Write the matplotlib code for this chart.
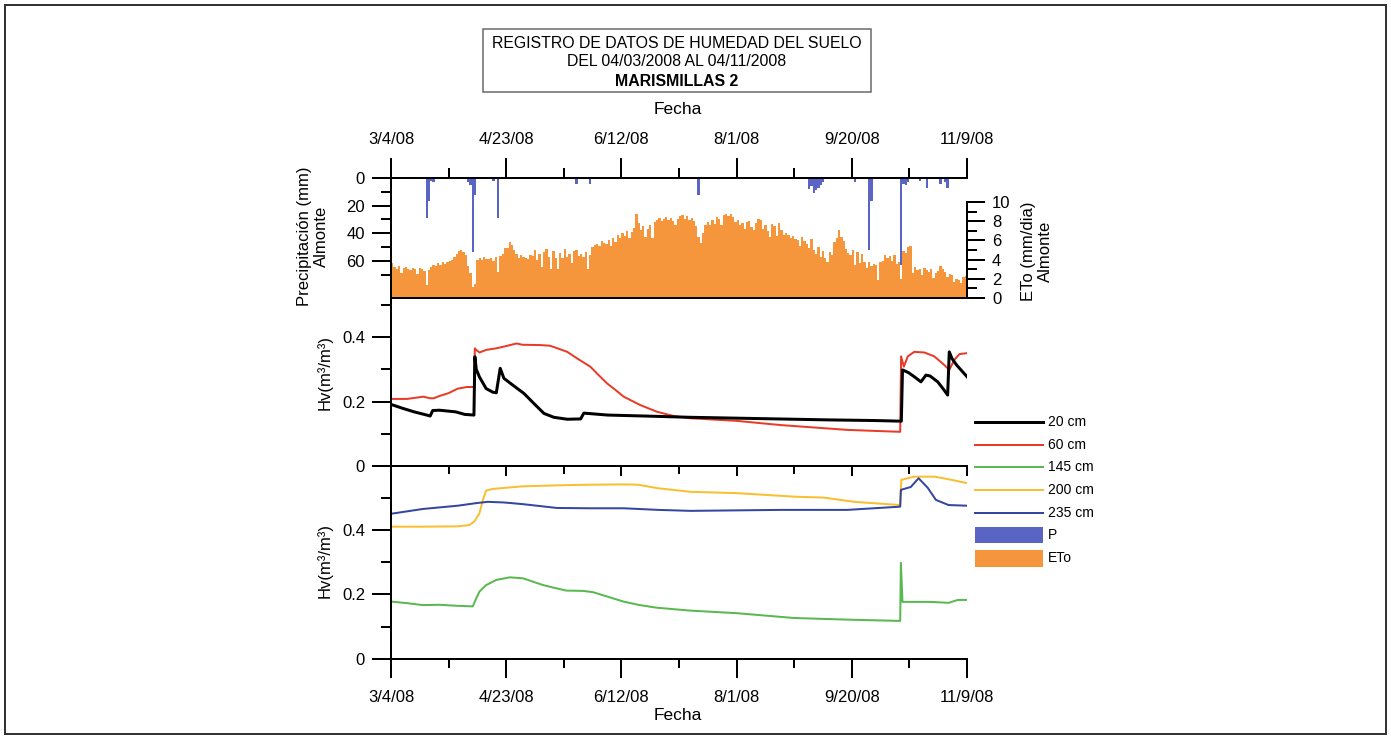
import matplotlib
matplotlib.use('Agg')
import matplotlib.pyplot as plt
from matplotlib.patches import Rectangle
from matplotlib.lines import Line2D
from matplotlib.ticker import FixedLocator, FuncFormatter

plt.rcParams['font.family'] = ['Liberation Sans', 'DejaVu Sans']

# ---------------- data ----------------
# x axis: days since 3/4/08
date_ticks = [0, 50, 100, 150, 200, 250]
date_labels = ['3/4/08', '4/23/08', '6/12/08', '8/1/08', '9/20/08', '11/9/08']
date_minor = [25, 75, 125, 175, 225]

# daily ETo (mm/dia), Almonte
eto = [3.6, 3.2, 3.0, 3.3, 2.6, 3.1, 3.2, 3.0, 2.9, 3.1,
       3.0, 2.5, 3.1, 3.0, 2.8, 1.4, 2.9, 3.2, 3.4, 3.3,
       3.6, 3.4, 3.8, 3.5, 3.7, 3.9, 4.0, 4.3, 4.6, 4.9,
       5.0, 4.8, 4.5, 3.3, 2.6, 1.1, 1.5, 4.0, 4.2, 4.0,
       4.3, 4.1, 4.1, 4.2, 3.9, 4.3, 2.7, 4.4, 4.6, 5.2,
       5.2, 5.8, 5.5, 5.0, 4.6, 4.2, 4.5, 4.3, 4.2, 4.1,
       4.5, 4.4, 5.0, 4.0, 4.6, 3.2, 4.8, 5.1, 4.3, 3.0,
       4.9, 4.2, 3.0, 4.7, 4.2, 5.1, 4.3, 4.6, 3.6, 4.9,
       5.0, 4.4, 4.6, 4.3, 4.8, 3.0, 4.5, 5.3, 5.5, 5.6,
       5.4, 5.9, 5.7, 5.6, 6.0, 5.4, 6.2, 5.8, 6.6, 6.3,
       6.8, 6.5, 7.0, 6.3, 6.9, 7.3, 8.8, 7.8, 7.1, 7.5,
       6.4, 7.2, 7.6, 6.2, 7.9, 8.1, 8.3, 8.0, 8.2, 8.4,
       8.1, 8.3, 8.0, 7.6, 8.2, 8.5, 8.6, 8.2, 8.5, 8.1,
       8.3, 8.0, 7.5, 6.4, 5.7, 6.8, 7.6, 7.9, 7.6, 8.1,
       7.7, 8.4, 8.2, 7.6, 8.6, 8.8, 8.5, 8.8, 8.4, 7.9,
       8.1, 7.6, 7.8, 7.2, 7.9, 8.0, 7.4, 7.1, 7.8, 8.2,
       8.1, 7.2, 7.6, 7.0, 6.4, 7.7, 7.5, 6.5, 7.8, 7.1,
       6.6, 6.8, 6.6, 6.3, 6.5, 6.1, 6.0, 5.4, 6.4, 5.9,
       5.6, 5.2, 6.1, 5.0, 4.6, 5.3, 4.3, 4.9, 4.2, 3.8,
       4.8, 4.5, 5.8, 6.3, 7.1, 6.4, 5.9, 5.1, 4.7, 4.5,
       5.0, 3.4, 4.8, 3.6, 4.6, 3.7, 3.1, 3.8, 3.3, 3.5,
       3.4, 1.9, 3.8, 3.9, 4.5, 4.2, 4.4, 3.9, 4.5, 3.5,
       3.7, 2.0, 4.9, 4.7, 5.3, 5.4, 2.6, 3.2, 2.9, 3.0,
       2.4, 3.1, 2.9, 2.7, 3.0, 2.1, 2.6, 2.8, 3.3, 3.0,
       2.7, 2.2, 2.5, 2.4, 1.7, 2.0, 1.9, 1.6, 2.2, 2.3]
eto_days = list(range(len(eto)))

# precipitation (mm), Almonte
precip_days = [15, 16, 17, 18, 33, 34, 35, 36, 44, 46, 66, 67, 70, 73, 79, 80, 86,
               133, 181, 182, 183, 184, 185, 186, 187, 201, 207, 208, 221, 222, 223,
               224, 226, 229, 232, 238, 240, 241]
precip_mm = [29, 17, 2, 3, 3, 5, 54, 12, 2, 29, 1, 1, 1, 1, 1, 4, 4,
             12, 8, 6, 11, 9, 7, 5, 3, 3, 52, 17, 63, 4, 5,
             3, 1, 2, 7, 4, 3, 7]

# soil moisture Hv (m3/m3)
d20 = [0, 5, 10, 15.5, 17, 18.1, 21, 28, 32, 36, 36.4, 37, 38.4, 41.3, 44.2, 45.7,
       47.4, 49, 51.9, 57.7, 62, 66.4, 70.7, 76.5, 82.3, 83.7, 94, 110, 130, 160,
       190, 210, 221.5, 222, 224.5, 227.1, 230, 232.2, 234, 237.3, 240, 241.6,
       242.3, 243.5, 245.5, 250]
v20 = [0.191, 0.179, 0.168, 0.158, 0.155, 0.172, 0.173, 0.168, 0.160, 0.158,
       0.339, 0.300, 0.276, 0.240, 0.229, 0.227, 0.303, 0.272, 0.256, 0.225,
       0.194, 0.163, 0.151, 0.145, 0.146, 0.164, 0.158, 0.155, 0.151, 0.147,
       0.143, 0.141, 0.139, 0.298, 0.290, 0.277, 0.261, 0.282, 0.279, 0.261,
       0.236, 0.220, 0.354, 0.333, 0.313, 0.277]

d60 = [0, 7, 11, 14, 17, 18.5, 21, 25, 29, 33, 36, 36.4, 37, 38.4, 41.3, 45.7, 50,
       54.5, 57, 64.8, 69, 72.2, 76.5, 80.7, 86.5, 90.1, 93.8, 97.4, 101, 108.2,
       115.5, 122.7, 130, 150, 169, 198, 221, 221.4, 222.6, 224.3, 227.1, 231.5,
       235.8, 240.2, 242.3, 244.5, 246.7, 250]
v60 = [0.208, 0.208, 0.212, 0.215, 0.210, 0.210, 0.217, 0.226, 0.240, 0.245,
       0.245, 0.365, 0.360, 0.352, 0.360, 0.365, 0.372, 0.380, 0.376, 0.375,
       0.373, 0.365, 0.354, 0.334, 0.308, 0.282, 0.256, 0.236, 0.215, 0.189,
       0.168, 0.155, 0.148, 0.140, 0.127, 0.112, 0.106, 0.340, 0.308, 0.340,
       0.354, 0.352, 0.340, 0.313, 0.298, 0.329, 0.347, 0.350]

d145 = [0, 7, 13.9, 21, 28.3, 35.5, 37, 38.4, 41.3, 45.7, 51.5, 57.3, 66, 71.8,
        76.1, 83.4, 87.7, 95, 100.8, 108, 115.3, 129.7, 150, 175, 198, 221, 221.3,
        222, 234, 242, 246, 250]
v145 = [0.178, 0.173, 0.167, 0.168, 0.165, 0.163, 0.188, 0.209, 0.229, 0.245,
        0.253, 0.250, 0.229, 0.219, 0.212, 0.211, 0.207, 0.191, 0.178, 0.167,
        0.159, 0.150, 0.142, 0.127, 0.122, 0.118, 0.298, 0.177, 0.177, 0.174,
        0.183, 0.183]

d200 = [0, 14, 29, 34, 36.2, 38.4, 39.9, 41.3, 44.2, 57, 72, 86, 101, 107.3, 115.9,
        130, 150, 175, 188, 201, 221, 221.5, 227, 236, 242, 250]
v200 = [0.410, 0.410, 0.411, 0.415, 0.426, 0.452, 0.493, 0.522, 0.527, 0.535,
        0.538, 0.540, 0.541, 0.540, 0.529, 0.518, 0.514, 0.503, 0.500, 0.487,
        0.477, 0.555, 0.565, 0.565, 0.557, 0.545]

d235 = [0, 14, 29, 37, 42, 49, 57, 72, 86, 101, 116, 130, 169, 198, 221, 221.3,
        225.6, 229, 233, 236.5, 242, 250]
v235 = [0.450, 0.465, 0.475, 0.483, 0.487, 0.485, 0.480, 0.468, 0.467, 0.467, 0.462,
        0.459, 0.462, 0.462, 0.472, 0.524, 0.533, 0.560, 0.530, 0.493, 0.477, 0.475]

legend_labels = ['20 cm', '60 cm', '145 cm', '200 cm', '235 cm', 'P', 'ETo']

# ---------------- style ----------------
C20, C60, C145, C200, C235 = '#000000', '#e83c28', '#5ab850', '#f9bf30', '#3346a0'
CP, CETO = '#5a64c4', '#f5963c'
W, H = 1391, 739
PT = 72.0 / 100  # points per pixel


def fx(px):
    return px / W


def fy(py):
    return 1 - py / H


fig = plt.figure(figsize=(W / 100, H / 100), dpi=100)
X0, X1 = 391, 967
ax_p = fig.add_axes([fx(X0), fy(298), fx(X1) - fx(X0), fy(178) - fy(298)])
ax_e = ax_p.twinx()
ax_m = fig.add_axes([fx(X0), fy(466), fx(X1) - fx(X0), fy(298) - fy(466)])
ax_b = fig.add_axes([fx(X0), fy(659), fx(X1) - fx(X0), fy(466) - fy(659)])

SPW = 2 * PT
TW = 2 * PT
TFS = 12

for ax in (ax_p, ax_e, ax_m, ax_b):
    ax.set_xlim(0, 250)
    ax.patch.set_visible(False)
    for s in ax.spines.values():
        s.set_linewidth(SPW)
        s.set_visible(False)

# ---- precipitation / ETo panel ----
ax_e.bar(eto_days, eto, width=1.0, align='edge', color=CETO, linewidth=0)
ax_e.set_ylim(0, 12.5)
ax_e.spines['right'].set_visible(True)
ax_e.spines['right'].set_bounds(0, 10)
ax_e.yaxis.set_major_locator(FixedLocator([0, 2, 4, 6, 8, 10]))
ax_e.yaxis.set_minor_locator(FixedLocator([1, 3, 5, 7, 9]))
ax_e.tick_params(axis='y', which='major', direction='out', length=18 * PT, width=TW,
                 labelsize=TFS, pad=5)
ax_e.tick_params(axis='y', which='minor', direction='out', length=10 * PT, width=TW)
ax_e.tick_params(axis='x', which='both', bottom=False, top=False,
                 labelbottom=False, labeltop=False)

ax_p.set_zorder(ax_e.get_zorder() + 1)
ax_p.bar(precip_days, precip_mm, width=1.0, align='edge', color=CP, linewidth=0)
ax_p.set_ylim(87, 0)
for s in ('left', 'top', 'bottom'):
    ax_p.spines[s].set_visible(True)
ax_p.yaxis.set_major_locator(FixedLocator([0, 20, 40, 60]))
ax_p.yaxis.set_minor_locator(FixedLocator([10, 30, 50, 70]))
ax_p.tick_params(axis='y', which='major', direction='out', length=19 * PT, width=TW,
                 labelsize=TFS, pad=5)
ax_p.tick_params(axis='y', which='minor', direction='out', length=10 * PT, width=TW)
ax_p.xaxis.set_major_locator(FixedLocator(date_ticks))
ax_p.xaxis.set_minor_locator(FixedLocator(date_minor))
ax_p.set_xticklabels(date_labels)
ax_p.tick_params(axis='x', which='both', bottom=False, top=True,
                 labelbottom=False, labeltop=True)
ax_p.tick_params(axis='x', which='major', direction='out', length=20 * PT, width=TW,
                 labelsize=TFS, pad=8)
ax_p.tick_params(axis='x', which='minor', direction='out', length=10 * PT, width=TW)

hv_fmt = FuncFormatter(lambda v, p: '0' if v == 0 else f'{v:.1f}')

# ---- middle panel ----
ax_m.plot(d60, v60, color=C60, lw=2 * PT)
ax_m.plot(d20, v20, color=C20, lw=3 * PT)
ax_m.set_ylim(0, 0.521)
ax_m.spines['left'].set_visible(True)
ax_m.spines['bottom'].set_visible(True)
ax_m.yaxis.set_major_locator(FixedLocator([0, 0.2, 0.4]))
ax_m.yaxis.set_minor_locator(FixedLocator([0.1, 0.3, 0.5]))
ax_m.yaxis.set_major_formatter(hv_fmt)
ax_m.tick_params(axis='y', which='major', direction='out', length=19 * PT, width=TW,
                 labelsize=TFS, pad=5)
ax_m.tick_params(axis='y', which='minor', direction='out', length=10 * PT, width=TW)
ax_m.xaxis.set_major_locator(FixedLocator(date_ticks))
ax_m.xaxis.set_minor_locator(FixedLocator(date_minor))
ax_m.tick_params(axis='x', which='major', direction='out', length=10 * PT, width=TW,
                 labelbottom=False)
ax_m.tick_params(axis='x', which='minor', direction='out', length=8 * PT, width=TW)

# ---- bottom panel ----
ax_b.plot(d200, v200, color=C200, lw=2 * PT)
ax_b.plot(d235, v235, color=C235, lw=2 * PT)
ax_b.plot(d145, v145, color=C145, lw=2 * PT)
ax_b.set_ylim(0, 0.598)
ax_b.spines['left'].set_visible(True)
ax_b.spines['bottom'].set_visible(True)
ax_b.yaxis.set_major_locator(FixedLocator([0, 0.2, 0.4]))
ax_b.yaxis.set_minor_locator(FixedLocator([0.1, 0.3, 0.5]))
ax_b.yaxis.set_major_formatter(hv_fmt)
ax_b.tick_params(axis='y', which='major', direction='out', length=19 * PT, width=TW,
                 labelsize=TFS, pad=5)
ax_b.tick_params(axis='y', which='minor', direction='out', length=10 * PT, width=TW)
ax_b.xaxis.set_major_locator(FixedLocator(date_ticks))
ax_b.xaxis.set_minor_locator(FixedLocator(date_minor))
ax_b.set_xticklabels(date_labels)
ax_b.tick_params(axis='x', which='major', direction='out', length=19 * PT, width=TW,
                 labelsize=TFS, pad=9)
ax_b.tick_params(axis='x', which='minor', direction='out', length=9 * PT, width=TW)

# ---- axis titles ----
fig.text(fx(678), fy(110), 'Fecha', ha='center', va='center', fontsize=12.5)
fig.text(fx(678), fy(715), 'Fecha', ha='center', va='center', fontsize=12.5)
fig.text(fx(313), fy(236), 'Precipitación (mm)\nAlmonte', ha='center', va='center',
         rotation=90, fontsize=12, linespacing=1.1)
fig.text(fx(1037), fy(251), 'ETo (mm/dia)\nAlmonte', ha='center', va='center',
         rotation=90, fontsize=12, linespacing=1.1)
fig.text(fx(325), fy(372), 'Hv(m³/m³)', ha='center', va='center', rotation=90,
         fontsize=12)
fig.text(fx(325), fy(561), 'Hv(m³/m³)', ha='center', va='center', rotation=90,
         fontsize=12)

# ---- title box ----
fig.add_artist(Rectangle((fx(483), fy(92)), fx(871) - fx(483), fy(29) - fy(92),
                         transform=fig.transFigure, fill=False, edgecolor='#666666',
                         linewidth=1.5 * PT))
fig.text(fx(677), fy(43), 'REGISTRO DE DATOS DE HUMEDAD DEL SUELO', ha='center',
         va='center', fontsize=11.4)
fig.text(fx(677), fy(62), 'DEL 04/03/2008 AL 04/11/2008', ha='center', va='center',
         fontsize=11.4)
fig.text(fx(677), fy(82), 'MARISMILLAS 2', ha='center', va='center', fontsize=11.4,
         fontweight='bold')

# ---- outer frame ----
fig.add_artist(Rectangle((fx(5), fy(734)), fx(1386) - fx(5), fy(5) - fy(734),
                         transform=fig.transFigure, fill=False, edgecolor='#333333',
                         linewidth=2 * PT))

# ---- legend ----
leg_colors = [C20, C60, C145, C200, C235]
leg_widths = [3, 2, 2, 2, 2]
leg_y = [422, 445, 467, 490, 513]
for c, w, y in zip(leg_colors, leg_widths, leg_y):
    fig.add_artist(Line2D([fx(975), fx(1043)], [fy(y), fy(y)], color=c, lw=w * PT,
                          transform=fig.transFigure))
for c, (ya, yb) in zip([CP, CETO], [(527, 543), (550, 567)]):
    fig.add_artist(Rectangle((fx(975), fy(yb)), fx(1043) - fx(975), fy(ya) - fy(yb),
                             transform=fig.transFigure, color=c, linewidth=0))
for lab, y in zip(legend_labels, leg_y + [535, 558]):
    fig.text(fx(1048), fy(y), lab, ha='left', va='center', fontsize=10)

fig.savefig('out.png', dpi=100)
